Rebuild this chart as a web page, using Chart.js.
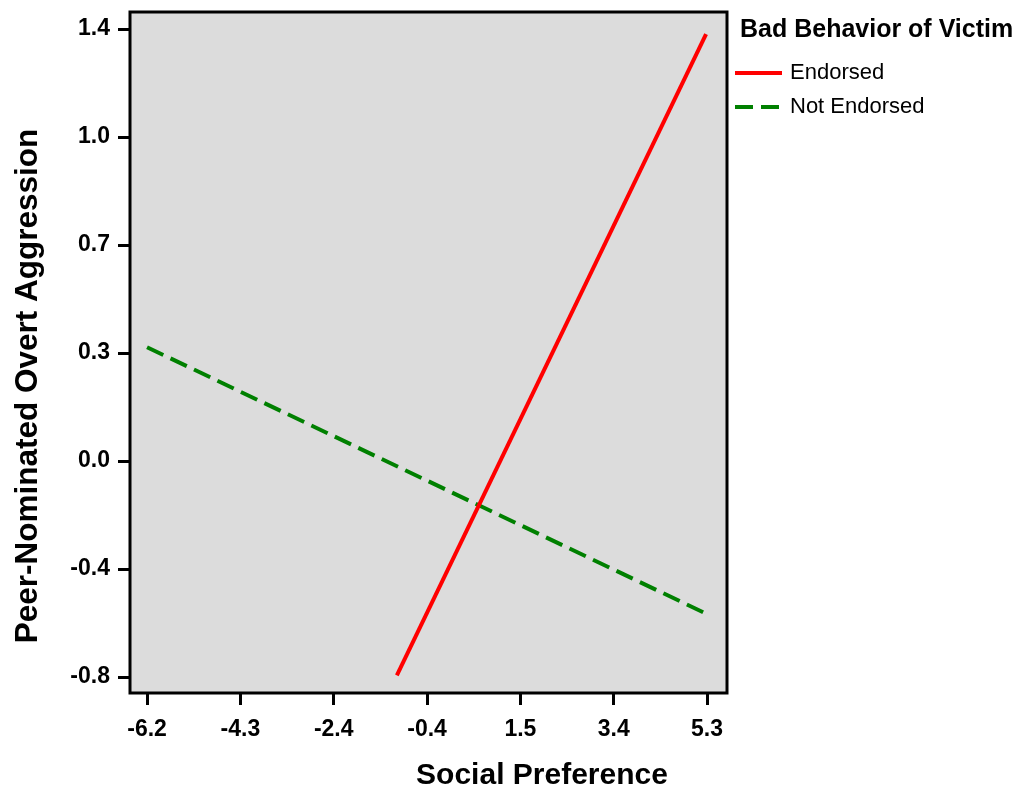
<!DOCTYPE html>
<html>
<head>
<meta charset="utf-8">
<script src="https://cdn.jsdelivr.net/npm/chart.js@4"></script>
<style>
  html, body { margin: 0; padding: 0; background: #fff; }
  #wrap { width: 1020px; height: 790px; }
</style>
</head>
<body>
<div id="wrap"><canvas id="chart" width="1020" height="790"></canvas></div>
<script>
// donnees
const legendTitle = "Bad Behavior of Victim";
const seriesNames = ["Endorsed", "Not Endorsed"];
const endorsedX = [-1.07, 5.28];
const endorsedY = [-0.794, 1.383];
const notEndorsedX = [-6.2, 5.3];
const notEndorsedY = [0.32, -0.586];
const xTickLabels = ["-6.2", "-4.3", "-2.4", "-0.4", "1.5", "3.4", "5.3"];
const yTickLabels = ["-0.8", "-0.4", "0.0", "0.3", "0.7", "1.0", "1.4"];
const xTitle = "Social Preference";
const yTitle = "Peer-Nominated Overt Aggression";

const FONT = "'Liberation Sans', Arial, sans-serif";

// ticks regulierement espaces, libelles pris dans les tableaux
function evenTicks(labels) {
    const first = parseFloat(labels[0]);
    const last = parseFloat(labels[labels.length - 1]);
    const step = (last - first) / (labels.length - 1);
    return labels.map((_, i) => ({ value: first + i * step }));
}

// fond gris, cadre, titres des axes et legende
const decorPlugin = {
    id: "decor",
    beforeDraw(chart) {
        const { ctx, chartArea: a } = chart;
        ctx.save();
        ctx.fillStyle = "#dcdcdc";
        ctx.fillRect(a.left, a.top, a.right - a.left, a.bottom - a.top);
        ctx.restore();
    },
    afterDraw(chart) {
        const { ctx, chartArea: a } = chart;
        ctx.save();
        ctx.strokeStyle = "#000";
        ctx.lineWidth = 3;
        ctx.strokeRect(a.left, a.top, a.right - a.left, a.bottom - a.top);

        // titres des axes
        ctx.fillStyle = "#000";
        ctx.textAlign = "center";
        ctx.textBaseline = "middle";
        ctx.font = "bold 30px " + FONT;
        ctx.fillText(xTitle, 542, 776);
        ctx.translate(28, 386);
        ctx.rotate(-Math.PI / 2);
        ctx.font = "bold 31.5px " + FONT;
        ctx.fillText(yTitle, 0, 0);
        ctx.restore();

        // legende
        ctx.save();
        ctx.fillStyle = "#000";
        ctx.textBaseline = "middle";
        ctx.textAlign = "left";
        ctx.font = "bold 25px " + FONT;
        ctx.fillText(legendTitle, 740, 30);
        ctx.font = "22px " + FONT;
        chart.data.datasets.forEach((ds, i) => {
            const y = 73 + i * 34;
            ctx.strokeStyle = ds.borderColor;
            ctx.lineWidth = 4;
            ctx.setLineDash(ds.borderDash || []);
            ctx.beginPath();
            ctx.moveTo(735, y);
            ctx.lineTo(782, y);
            ctx.stroke();
            ctx.setLineDash([]);
            ctx.fillText(ds.label, 790, y);
        });
        ctx.restore();
    }
};

const ctx = document.getElementById("chart").getContext("2d");
const chart = new Chart(ctx, {
    type: "scatter",
    data: {
        datasets: [
            {
                label: seriesNames[0],
                data: endorsedX.map((x, i) => ({ x: x, y: endorsedY[i] })),
                showLine: true,
                borderColor: "#ff0000",
                borderWidth: 4,
                pointRadius: 0
            },
            {
                label: seriesNames[1],
                data: notEndorsedX.map((x, i) => ({ x: x, y: notEndorsedY[i] })),
                showLine: true,
                borderColor: "#008000",
                borderWidth: 4,
                borderDash: [18, 8],
                pointRadius: 0
            }
        ]
    },
    options: {
        responsive: false,
        animation: false,
        layout: { padding: { top: 12, right: 293, bottom: 0, left: 0 } },
        plugins: {
            legend: { display: false },
            tooltip: { enabled: false }
        },
        scales: {
            x: {
                type: "linear",
                min: -6.55,
                max: 5.71,
                afterBuildTicks: (scale) => { scale.ticks = evenTicks(xTickLabels); },
                afterFit: (scale) => { scale.height = 97; scale.paddingLeft = 0; scale.paddingRight = 0; },
                grid: { drawOnChartArea: false, color: "#000", lineWidth: 3, tickLength: 12 },
                border: { display: false },
                ticks: {
                    color: "#000",
                    font: { family: FONT, size: 23, weight: "bold" },
                    padding: 11,
                    maxRotation: 0,
                    callback: (v, i) => xTickLabels[i]
                }
            },
            y: {
                min: -0.854,
                max: 1.458,
                afterBuildTicks: (scale) => { scale.ticks = evenTicks(yTickLabels); },
                afterFit: (scale) => { scale.width = 130; scale.paddingTop = 0; scale.paddingBottom = 0; },
                grid: { drawOnChartArea: false, color: "#000", lineWidth: 3, tickLength: 12 },
                border: { display: false },
                ticks: {
                    color: "#000",
                    font: { family: FONT, size: 23, weight: "bold" },
                    padding: 8,
                    callback: (v, i) => yTickLabels[i]
                }
            }
        }
    },
    plugins: [decorPlugin]
});
</script>
</body>
</html>
